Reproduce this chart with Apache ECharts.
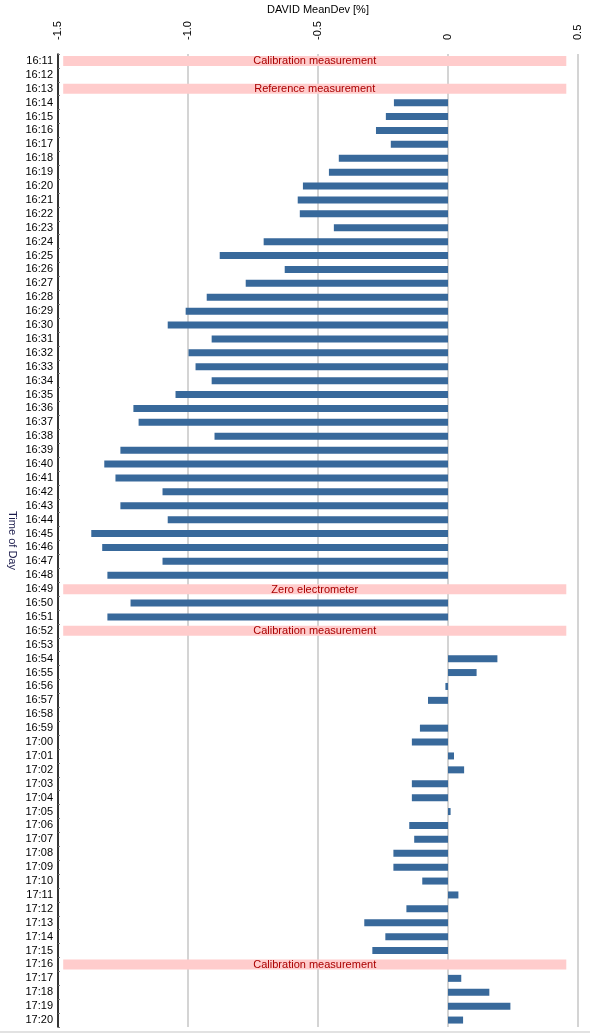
<!DOCTYPE html>
<html>
<head>
<meta charset="utf-8">
<script src="https://cdn.jsdelivr.net/npm/echarts@6/dist/echarts.min.js"></script>
<style>
html,body{margin:0;padding:0;background:#fff;}
#chart{width:590px;height:1034px;}
</style>
</head>
<body>
<div id="chart"></div>
<script>
const categories = [
  '16:11','16:12','16:13','16:14','16:15','16:16','16:17','16:18','16:19','16:20',
  '16:21','16:22','16:23','16:24','16:25','16:26','16:27','16:28','16:29','16:30',
  '16:31','16:32','16:33','16:34','16:35','16:36','16:37','16:38','16:39','16:40',
  '16:41','16:42','16:43','16:44','16:45','16:46','16:47','16:48','16:49','16:50',
  '16:51','16:52','16:53','16:54','16:55','16:56','16:57','16:58','16:59','17:00',
  '17:01','17:02','17:03','17:04','17:05','17:06','17:07','17:08','17:09','17:10',
  '17:11','17:12','17:13','17:14','17:15','17:16','17:17','17:18','17:19','17:20'
];
const meanDev = [
  null, null, null, -0.208, -0.239, -0.277, -0.220, -0.420, -0.458, -0.558,
  -0.578, -0.570, -0.439, -0.709, -0.878, -0.628, -0.778, -0.928, -1.009, -1.078,
  -0.909, -0.998, -0.971, -0.909, -1.048, -1.210, -1.190, -0.898, -1.260, -1.322,
  -1.279, -1.098, -1.260, -1.078, -1.372, -1.330, -1.098, -1.310, null, -1.221,
  -1.310, null, null, 0.190, 0.110, -0.010, -0.077, null, -0.108, -0.139,
  0.023, 0.062, -0.139, -0.139, 0.010, -0.149, -0.130, -0.210, -0.210, -0.099,
  0.040, -0.160, -0.322, -0.241, -0.291, null, 0.051, 0.159, 0.240, 0.058
];
const bandTimes = ['16:11', '16:13', '16:49', '16:52', '17:16'];
const bandLabels = ['Calibration measurement', 'Reference measurement', 'Zero electrometer', 'Calibration measurement', 'Calibration measurement'];
const bandStart = -1.48;
const bandEnd = 0.455;
const xTicks = [-1.5, -1.0, -0.5, 0, 0.5];
const xTickLabels = ['-1.5', '-1.0', '-0.5', '0', '0.5'];

const FONT = '"Liberation Sans", Arial, sans-serif';
const chart = echarts.init(document.getElementById('chart'));
const bandData = bandTimes.map(t => [bandStart, bandEnd, categories.indexOf(t)]);

chart.setOption({
  animation: false,
  backgroundColor: '#fff',
  textStyle: { fontFamily: FONT },
  grid: { left: 58, right: 12, top: 54, bottom: 7, containLabel: false, outerBoundsMode: 'none' },
  xAxis: {
    type: 'value',
    position: 'top',
    min: -1.5, max: 0.5, interval: 0.5,
    name: 'DAVID MeanDev [%]',
    nameLocation: 'middle',
    nameMoveOverlap: false,
    nameGap: 39,
    nameTextStyle: { fontSize: 11, color: '#000', fontFamily: FONT },
    axisLine: { show: false },
    axisTick: { show: false },
    axisLabel: {
      rotate: -90, fontSize: 11, color: '#000', margin: 14, fontFamily: FONT,
      formatter: v => { const i = xTicks.findIndex(t => Math.abs(t - v) < 1e-9); return i >= 0 ? xTickLabels[i] : ''; }
    },
    splitLine: { show: true, lineStyle: { color: '#d4d4d4', width: 2 } }
  },
  yAxis: {
    type: 'category',
    data: categories,
    inverse: true,
    name: 'Time of Day',
    nameLocation: 'middle',
    nameRotate: -90,
    nameMoveOverlap: false,
    nameGap: 40,
    nameTextStyle: { fontSize: 11, color: '#1c1c4c', fontFamily: FONT },
    axisLine: { show: true, onZero: false, lineStyle: { color: '#000', width: 1.5 } },
    axisTick: { show: true, inside: true, length: 2, lineStyle: { color: '#777' } },
    axisLabel: { fontSize: 11, color: '#000', margin: 5, fontFamily: FONT, interval: 0 },
    splitLine: { show: false },
    z: 5
  },
  graphic: [{
    type: 'rect', left: 0, bottom: 1, shape: { width: 590, height: 2 },
    style: { fill: '#e2e2e2' }, silent: true
  }],
  series: [
    {
      type: 'custom',
      data: bandData,
      encode: { x: [0, 1], y: 2 },
      z: 1,
      renderItem: function (params, api) {
        const p0 = api.coord([api.value(0), api.value(2)]);
        const p1 = api.coord([api.value(1), api.value(2)]);
        const h = api.size([0, 1])[1] * 0.72;
        return {
          type: 'group',
          children: [
            { type: 'rect', shape: { x: p0[0], y: p0[1] - h / 2, width: p1[0] - p0[0], height: h }, style: { fill: '#ffcccc' } },
            { type: 'text', style: { text: bandLabels[params.dataIndex], x: (p0[0] + p1[0]) / 2, y: p0[1] + 0.5, align: 'center', verticalAlign: 'middle', fill: '#aa0000', font: '11px ' + FONT } }
          ]
        };
      }
    },
    {
      type: 'bar',
      data: meanDev,
      barWidth: 7,
      z: 2,
      itemStyle: { color: '#38699b' }
    }
  ]
});
</script>
</body>
</html>
